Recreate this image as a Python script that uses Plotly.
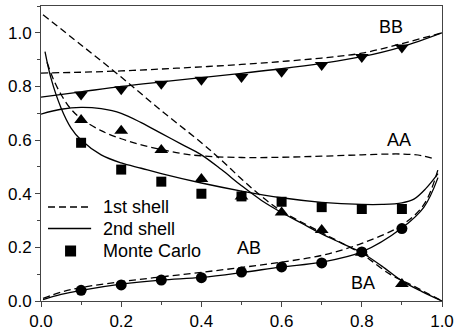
import plotly.graph_objects as go

# Monte Carlo data
x_mc = [0.1, 0.2, 0.3, 0.4, 0.5, 0.6, 0.7, 0.8, 0.9]
bb_mc = [0.77, 0.79, 0.81, 0.825, 0.835, 0.855, 0.88, 0.91, 0.945]
tri_mc = [0.675, 0.635, 0.563, 0.455, 0.39, 0.33, 0.265, 0.18, 0.063]
sq_mc = [0.59, 0.49, 0.445, 0.40, 0.39, 0.37, 0.35, 0.343, 0.343]
ab_mc = [0.04, 0.06, 0.078, 0.087, 0.108, 0.127, 0.142, 0.183, 0.27]

# BB curves
bb1_x = [0.0, 0.1, 0.2, 0.3, 0.4, 0.5, 0.6, 0.7, 0.8, 0.9, 1.0]
bb1_y = [0.85, 0.853, 0.858, 0.865, 0.873, 0.882, 0.893, 0.906, 0.924, 0.96, 1.0]
bb2_x = [0.0, 0.1, 0.2, 0.3, 0.4, 0.5, 0.6, 0.7, 0.8, 0.9, 1.0]
bb2_y = [0.76, 0.78, 0.80, 0.817, 0.833, 0.849, 0.866, 0.886, 0.911, 0.948, 1.0]

# AA curves
aa1_x = [0.015, 0.03, 0.05, 0.075, 0.1, 0.15, 0.2, 0.25, 0.3, 0.35, 0.4, 0.5, 0.6, 0.7, 0.8, 0.9, 0.95, 0.98]
aa1_y = [0.89, 0.83, 0.77, 0.715, 0.68, 0.635, 0.605, 0.582, 0.565, 0.55, 0.541, 0.535, 0.536, 0.54, 0.545, 0.548, 0.542, 0.53]
aa2_x = [0.01, 0.025, 0.05, 0.075, 0.1, 0.15, 0.2, 0.25, 0.3, 0.4, 0.5, 0.6, 0.7, 0.8, 0.85, 0.9, 0.93, 0.96, 0.99]
aa2_y = [0.93, 0.83, 0.72, 0.645, 0.60, 0.545, 0.515, 0.495, 0.475, 0.44, 0.41, 0.385, 0.368, 0.36, 0.36, 0.366, 0.38, 0.42, 0.475]

# BA curves
ba1_x = [0.005, 0.1, 0.2, 0.3, 0.4, 0.45, 0.5, 0.55, 0.6, 0.7, 0.8, 0.87, 0.93, 1.0]
ba1_y = [1.067, 0.955, 0.835, 0.71, 0.59, 0.525, 0.455, 0.39, 0.335, 0.255, 0.175, 0.10, 0.055, 0.0]
ba2_x = [0.0, 0.05, 0.1, 0.15, 0.2, 0.25, 0.3, 0.35, 0.4, 0.45, 0.5, 0.55, 0.6, 0.65, 0.7, 0.75, 0.8, 0.85, 0.9, 0.95, 1.0]
ba2_y = [0.697, 0.715, 0.722, 0.717, 0.70, 0.665, 0.625, 0.585, 0.545, 0.49, 0.43, 0.375, 0.33, 0.29, 0.25, 0.215, 0.18, 0.13, 0.075, 0.035, 0.0]

# AB curves
ab1_x = [0.005, 0.05, 0.1, 0.2, 0.3, 0.4, 0.5, 0.6, 0.7, 0.8, 0.9, 0.955, 0.99]
ab1_y = [0.01, 0.033, 0.05, 0.072, 0.09, 0.107, 0.125, 0.145, 0.17, 0.215, 0.283, 0.36, 0.49]
ab2_x = [0.005, 0.05, 0.1, 0.2, 0.3, 0.4, 0.5, 0.6, 0.7, 0.8, 0.9, 0.955, 0.99]
ab2_y = [0.005, 0.025, 0.04, 0.063, 0.078, 0.088, 0.106, 0.127, 0.145, 0.183, 0.272, 0.35, 0.46]

labels = [("BB", 0.874, 1.022), ("AA", 0.8925, 0.60), ("AB", 0.5175, 0.196), ("BA", 0.8025, 0.067)]
legend_names = ["1st shell", "2nd shell", "Monte Carlo"]

FONT = "Liberation Sans, Arial, sans-serif"
DASH = "7px,4px"
LW = 1.3
FS = 17

fig = go.Figure()

def curve(x, y, dashed):
    fig.add_trace(go.Scatter(
        x=x, y=y, mode="lines", showlegend=False, hoverinfo="skip",
        line=dict(color="black", width=LW, dash=DASH if dashed else "solid",
                  shape="spline", smoothing=1.0)))

curve(bb1_x, bb1_y, True)
curve(bb2_x, bb2_y, False)
curve(aa1_x, aa1_y, True)
curve(aa2_x, aa2_y, False)
curve(ba1_x, ba1_y, True)
curve(ba2_x, ba2_y, False)
curve(ab1_x, ab1_y, True)
curve(ab2_x, ab2_y, False)

def marks(y, sym, size):
    fig.add_trace(go.Scatter(
        x=x_mc, y=y, mode="markers", showlegend=False,
        marker=dict(symbol=sym, color="black", size=size, line=dict(width=0))))

marks(sq_mc, "square", 10)
marks(bb_mc, "triangle-down", 12)
marks(tri_mc, "triangle-up", 12)
marks(ab_mc, "circle", 11)

for txt, lx, ly in labels:
    fig.add_annotation(x=lx, y=ly, text=txt, showarrow=False,
                       font=dict(family=FONT, size=FS + 1, color="black"))

# manual legend (paper coordinates)
def px2x(px):
    return (px - 41) / 400.0

def py2y(py):
    return (301 - py) / 295.0

leg_rows = [207, 228.5, 251]
fig.add_shape(type="line", xref="paper", yref="paper",
              x0=px2x(48), x1=px2x(91), y0=py2y(leg_rows[0]), y1=py2y(leg_rows[0]),
              line=dict(color="black", width=LW, dash=DASH))
fig.add_shape(type="line", xref="paper", yref="paper",
              x0=px2x(48), x1=px2x(91), y0=py2y(leg_rows[1]), y1=py2y(leg_rows[1]),
              line=dict(color="black", width=LW))
fig.add_shape(type="rect", xref="paper", yref="paper",
              x0=px2x(65), x1=px2x(76), y0=py2y(leg_rows[2] - 5.5), y1=py2y(leg_rows[2] + 5.5),
              fillcolor="black", line=dict(width=0))
for name, row in zip(legend_names, leg_rows):
    fig.add_annotation(xref="paper", yref="paper", x=px2x(101), y=py2y(row),
                       xanchor="left", yanchor="middle", text=name, showarrow=False,
                       font=dict(family=FONT, size=FS + 1, color="black"))

axis_common = dict(
    showgrid=False, zeroline=False, showline=True, linecolor="#444", linewidth=1,
    mirror=True, ticks="outside", ticklen=5, tickcolor="#444",
    tickfont=dict(family=FONT, size=FS, color="black"),
    tickformat=".1f", automargin=False,
)

fig.update_xaxes(range=[0, 1.0], dtick=0.2, tick0=0,
                 minor=dict(ticks="outside", ticklen=3, dtick=0.1, tickcolor="#444"),
                 **axis_common)
fig.update_yaxes(range=[0, 1.1], dtick=0.2, tick0=0,
                 minor=dict(ticks="outside", ticklen=3, dtick=0.1, tickcolor="#444"),
                 **axis_common)

fig.update_layout(
    width=454, height=331,
    margin=dict(l=41, r=12, t=6, b=30, autoexpand=False),
    plot_bgcolor="white", paper_bgcolor="white",
    font=dict(family=FONT, size=FS, color="black"),
    showlegend=False,
)

fig.write_html("out.html")
